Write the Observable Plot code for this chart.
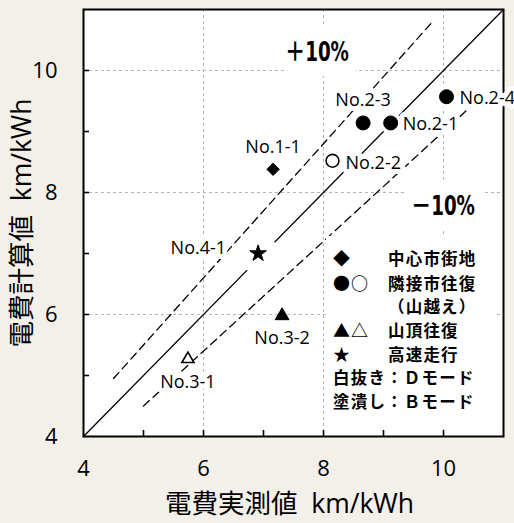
<!DOCTYPE html>
<html lang="ja">
<head>
<meta charset="utf-8">
<script src="https://cdn.jsdelivr.net/npm/d3@7"></script>
<script src="https://cdn.jsdelivr.net/npm/@observablehq/plot@0.6"></script>
<style>
  html, body { margin: 0; padding: 0; background: #f3efe9; }
  #chart { position: relative; width: 514px; height: 523px; overflow: hidden; }
  #chart svg { display: block; overflow: hidden; }
  #legend { position: absolute; left: 326px; top: 236px; width: 169px; height: 192px; background: #fff;
    box-sizing: border-box; padding: 10.4px 0 0 7px; font-family: 'Noto Sans CJK JP', sans-serif; font-weight: 700;
    font-size: 16.5px; letter-spacing: 1.2px; line-height: 23.2px; color: #000; white-space: nowrap; }
  #legend .sym { display: inline-block; width: 55px; font-size: 17px; letter-spacing: 1px; }
</style>
</head>
<body>
<div id="chart"></div>
<script>
// ---- data ----
const runs       = ["No.1-1", "No.2-1", "No.2-2", "No.2-3", "No.2-4", "No.3-1", "No.3-2", "No.4-1"];
const measured   = [7.16, 9.12, 8.15, 8.66, 10.05, 5.74, 7.31, 6.91];   // 電費実測値 km/kWh
const calculated = [8.38, 9.14, 8.52, 9.14, 9.57, 5.27, 5.98, 7.00];    // 電費計算値 km/kWh
const course     = ["中心市街地", "隣接市往復", "隣接市往復", "隣接市往復", "隣接市往復", "山頂往復", "山頂往復", "高速走行"];
const mode       = ["B", "B", "D", "B", "B", "D", "B", "B"];

const tickLabels = [4, 6, 8, 10];
const minorTicks = [5, 6, 7, 8, 9, 10];
const gridValues = [6, 8, 10];

const bandRatio = [0, 0.1, -0.1];
const bandFrom  = [4, 4.5, 5];
const bandTo    = [11, 9.82, 10.4];

const annotationText = ["＋10%", "－10%"];
const annotationX    = [7.89, 9.99];
const annotationY    = [10.30, 7.77];

const legendSymbols = ["◆", "●○", "", "▲△", "★"];
const legendLabels  = ["中心市街地", "隣接市往復", "（山越え）", "山頂往復", "高速走行"];
const modeNotes     = ["白抜き：Ｄモード", "塗潰し：Ｂモード"];

const xTitle = "電費実測値  km/kWh";
const yTitle = "電費計算値  km/kWh";

// ---- derived tables ----
const rows = runs.map((id, i) => ({id, measured: measured[i], calculated: calculated[i], course: course[i], mode: mode[i]}));
const bands = bandRatio.map((k, i) => [
  {x: bandFrom[i], y: bandFrom[i] * (1 + k)},
  {x: bandTo[i], y: bandTo[i] * (1 + k)}
]);
const annotations = annotationText.map((t, i) => ({t, x: annotationX[i], y: annotationY[i]}));

// ---- styles ----
const symbolFor = {"中心市街地": "diamond2", "隣接市往復": "circle", "山頂往復": "triangle", "高速走行": "star"};
const sizeFor = {diamond2: 5.6, circle: 7, triangle: 5.1, star: 5.2};
const haloFor = {circle: 11, star: 20};
const placement = {
  "No.1-1": {dx: 0, dy: -22, textAnchor: "middle"},
  "No.2-3": {dx: 0, dy: -23, textAnchor: "middle"},
  "No.2-1": {dx: 12, dy: 1.5, textAnchor: "start"},
  "No.2-4": {dx: 13, dy: 1.5, textAnchor: "start"},
  "No.2-2": {dx: 13, dy: 2, textAnchor: "start"},
  "No.4-1": {dx: -32, dy: -5, textAnchor: "end"},
  "No.3-2": {dx: 0, dy: 23, textAnchor: "middle"},
  "No.3-1": {dx: 0, dy: 23, textAnchor: "middle"}
};
const latin = "'Open Sans', 'Noto Sans CJK JP', sans-serif";

const marks = [
  Plot.frame({fill: "white", stroke: "none"}),
  Plot.ruleX(gridValues, {x: d => d, stroke: "#b3b3b3", strokeWidth: 1, strokeDasharray: "3,3"}),
  Plot.ruleY(gridValues, {y: d => d, stroke: "#b3b3b3", strokeWidth: 1, strokeDasharray: "3,3"}),
  Plot.tickX(minorTicks, {x: d => d, insetTop: 421, stroke: "black", strokeWidth: 1.6}),
  Plot.tickY(minorTicks, {y: d => d, insetRight: 414, stroke: "black", strokeWidth: 1.6}),
  ...bands.map((b, i) => Plot.line(b, {
    x: "x", y: "y", stroke: "black", strokeWidth: 1.3,
    strokeDasharray: bandRatio[i] === 0 ? null : "8,5"
  })),
  Plot.frame({stroke: "black", strokeWidth: 2}),
  ...rows.map(d => Plot.text([d], {
    x: "measured", y: "calculated", text: "id",
    ...placement[d.id],
    fontSize: 18, fontFamily: latin, fill: "black",
    stroke: "white", strokeWidth: 10, strokeLinejoin: "round", paintOrder: "stroke"
  })),
  Plot.text(annotations, {
    x: "x", y: "y", text: "t",
    fontSize: 26, fontWeight: "bold",
    fontFamily: "'Liberation Sans Narrow', 'DejaVu Sans Condensed', 'Noto Sans CJK JP', sans-serif",
    fill: "black", stroke: "white", strokeWidth: 30, strokeLinejoin: "round", paintOrder: "stroke"
  }),
  ...rows.filter(d => d.mode === "B" && haloFor[symbolFor[d.course]]).map(d => Plot.dot([d], {
    x: "measured", y: "calculated", symbol: "circle", r: haloFor[symbolFor[d.course]], fill: "white", stroke: "none"
  })),
  ...rows.map(d => {
    const s = symbolFor[d.course];
    const open = d.mode === "D";
    return Plot.dot([d], {
      x: "measured", y: "calculated", symbol: s,
      r: open ? sizeFor[s] - 0.6 : sizeFor[s],
      fill: open ? "white" : "black", stroke: "black", strokeWidth: open ? 1.6 : 1
    });
  }),
  Plot.axisX(tickLabels, {tickSize: 0, tickPadding: 24, fontSize: 22, fontFamily: latin, label: null, tickFormat: d => String(d)}),
  Plot.axisY(tickLabels, {tickSize: 0, tickPadding: 26, fontSize: 22, fontFamily: latin, label: null, tickFormat: d => String(d)}),
  Plot.text([xTitle], {text: d => d, frameAnchor: "bottom", textAnchor: "middle", dy: 76, dx: -4, fontSize: 26.5, fontFamily: latin, fill: "black"}),
  Plot.text([yTitle], {text: d => d, frameAnchor: "left", textAnchor: "middle", dx: -61, rotate: -90, fontSize: 26.5, fontFamily: latin, fill: "black"})
];

const chart = Plot.plot({
  width: 514, height: 523,
  marginLeft: 83, marginRight: 11, marginTop: 9, marginBottom: 87,
  style: {background: "transparent", color: "black", fontFamily: latin, overflow: "hidden"},
  x: {domain: [4, 11], label: null},
  y: {domain: [4, 11], label: null},
  marks
});

// condense the ±10% annotations to the narrow bold look of the original
d3.select(chart).selectAll("text")
  .filter(function() { return annotationText.includes(this.textContent); })
  .attr("textLength", 64)
  .attr("lengthAdjust", "spacingAndGlyphs");

const host = document.getElementById("chart");
host.appendChild(chart);

// legend box (white background, inside the plot frame)
const legend = document.createElement("div");
legend.id = "legend";
legendLabels.forEach((label, i) => {
  const row = document.createElement("div");
  const sym = document.createElement("span");
  sym.className = "sym";
  sym.textContent = legendSymbols[i];
  row.appendChild(sym);
  row.appendChild(document.createTextNode(label));
  legend.appendChild(row);
});
modeNotes.forEach(note => {
  const row = document.createElement("div");
  row.textContent = note;
  legend.appendChild(row);
});
host.appendChild(legend);
</script>
</body>
</html>
